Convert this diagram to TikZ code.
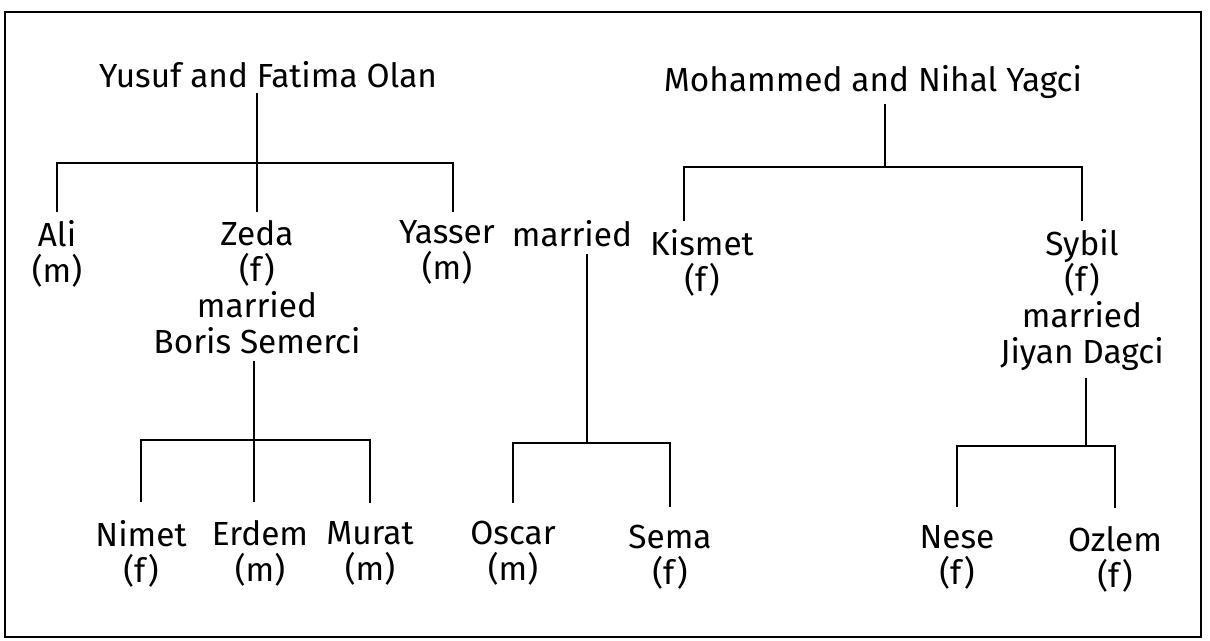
\documentclass[tikz,border=0pt]{standalone}
\usepackage{fontspec}
\setmainfont{Fira Sans}
\usetikzlibrary{positioning}

\begin{document}
\begin{tikzpicture}[
      x=.5pt, y=-.5pt,
      every path/.style={line width=.9pt},
      every node/.style={font=\fontsize{16.7}{18}\selectfont, inner sep=0pt, align=center},
      parents/.style={anchor=base},
      kid/.style={anchor=north, outer sep=4pt},
      grandkid/.style={kid, outer sep=9pt}
    ]
    \useasboundingbox (0,0) rectangle (1210,641);
    \draw[line width=1.3pt] (5,12) rectangle (1201,637);

    % couples at the top
    \node[parents] (olan) at (268,88) {Yusuf and Fatima Olan};
    \node[parents] (yagci) at (873,92) {Mohammed and Nihal Yagci};

    % their children
    \node[kid] (ali) at (57,212) {Ali\\(m)};
    \node[kid] (zeda) at (257,212) {Zeda\\(f)\\married\\Boris Semerci};
    \node[kid] (yasser) at (447,212) {Yasser\\(m)};
    \node[kid] (married) at (572,212) {married};
    \node[kid] (kismet) at (702,221) {Kismet\\(f)};
    \node[kid] (sybil) at (1082,221) {Sybil\\(f)\\married\\Jiyan Dagci};

    % grandchildren
    \node[grandkid] (nimet) at (141,502) {Nimet\\(f)};
    \node[grandkid] (erdem) at (260,502) {Erdem\\(m)};
    \node[grandkid] (murat) at (370,503) {Murat\\(m)};
    \node[grandkid] (oscar) at (513,503) {Oscar\\(m)};
    \node[grandkid] (sema) at (670,507) {Sema\\(f)};
    \node[grandkid] (nese) at (957,507) {Nese\\(f)};
    \node[grandkid] (ozlem) at (1115,508) {Ozlem\\(f)};

    \coordinate (olanbar) at (257,163);
    \coordinate (yagcibar) at (885,167);
    \coordinate (zedabar) at (254,440);
    \coordinate (marriedbar) at (587,443);
    \coordinate (sybilbar) at (1086,446);

    \draw[shorten <=2pt] (olan.south -| olanbar) -- (olanbar);
    \draw ([xshift=0pt]ali.north) |- (olanbar) -| ([xshift=3pt]yasser.north);
    \draw (olanbar) -- (olanbar |- zeda.north);

    \draw[shorten <=2pt] (yagci.south -| yagcibar) -- (yagcibar);
    \draw ([xshift=-9pt]kismet.north) |- (yagcibar) -| (sybil.north);

    \draw (zeda.south -| zedabar) -- (zedabar);
    \draw (nimet.north) |- (zedabar) -| (murat.north);
    \draw (zedabar) -- (zedabar |- erdem.north);

    \draw ([xshift=7.5pt]married.south) -- (marriedbar);
    \draw (oscar.north) |- (marriedbar) -| (sema.north);

    \draw (sybil.south -| sybilbar) -- (sybilbar);
    \draw (nese.north) |- (sybilbar) -| (ozlem.north);
\end{tikzpicture}
\end{document}
